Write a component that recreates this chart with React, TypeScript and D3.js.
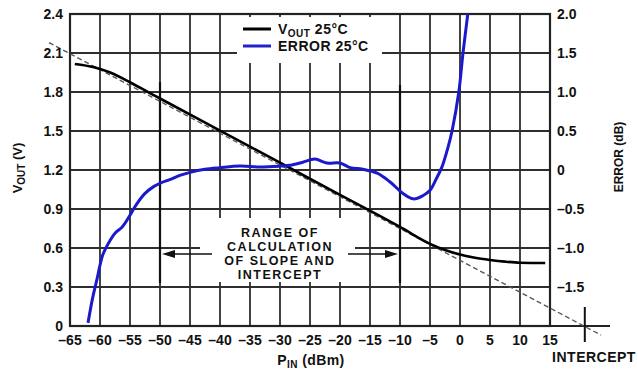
import React from "react";
import * as d3 from "d3";

const xTicks = [-65, -60, -55, -50, -45, -40, -35, -30, -25, -20, -15, -10, -5, 0, 5, 10, 15];
const vTicks = [0, 0.3, 0.6, 0.9, 1.2, 1.5, 1.8, 2.1, 2.4];
const vTickLabels = ["0", "0.3", "0.6", "0.9", "1.2", "1.5", "1.8", "2.1", "2.4"];
const errTicks = [2.0, 1.5, 1.0, 0.5, 0, -0.5, -1.0, -1.5];
const errTickLabels = ["2.0", "1.5", "1.0", "0.5", "0", "\u20130.5", "\u20131.0", "\u20131.5"];

const voutP = [-64.2, -61, -58.3, -55, -51.7, -50, -40, -30, -20, -13.3, -10, -5, -2.5, 0, 2.5, 5, 7.5, 10, 14.2];
const voutV = [2.015, 1.99, 1.95, 1.875, 1.792, 1.75, 1.503, 1.256, 1.009, 0.845, 0.762, 0.632, 0.585, 0.55, 0.525, 0.508, 0.495, 0.487, 0.485];

const errP = [-62, -61.2, -60.5, -60, -59.5, -58.3, -57.5, -56.3, -55, -54, -52.5, -51, -50, -48.3, -46.7, -45, -42.5, -40, -36.7, -33.3, -30, -28.3, -26.2, -24.2, -22.2, -20, -18.3, -16.2, -13.8, -11.7, -9.5, -7.8, -6.2, -5, -4, -3, -2, -1.3, -0.2, 0.5, 1.3];
const errDb = [-1.96, -1.63, -1.4, -1.22, -1.08, -0.9, -0.81, -0.73, -0.58, -0.45, -0.3, -0.21, -0.17, -0.12, -0.07, -0.03, 0.01, 0.03, 0.05, 0.04, 0.05, 0.06, 0.1, 0.14, 0.09, 0.09, 0.03, 0.01, -0.04, -0.15, -0.3, -0.37, -0.33, -0.26, -0.12, 0.04, 0.29, 0.51, 1.0, 1.5, 2.0];

const fitP = [-68.5, 23.5];
const fitV = [2.18, -0.07];
const interceptP = 20.8;
const rangeP = [-50, -10];
const rangeText = ["RANGE OF", "CALCULATION", "OF SLOPE AND", "INTERCEPT"];

const font = "'Liberation Sans', Arial, Helvetica, sans-serif";

export default function App() {
  const x = d3.scaleLinear().domain([-65, 15]).range([70, 550]);
  const yV = d3.scaleLinear().domain([0, 2.4]).range([326, 14]);
  const yE = d3.scaleLinear().domain([-2, 2]).range([326, 14]);

  const voutLine = d3
    .line<number>()
    .x((_, i) => x(voutP[i]))
    .y((d) => yV(d))
    .curve(d3.curveMonotoneX)(voutV) as string;

  const errLine = d3
    .line<number>()
    .x((_, i) => x(errP[i]))
    .y((d) => yE(d))
    .curve(d3.curveCatmullRom.alpha(0.5))(errDb) as string;

  const fitLine = d3
    .line<number>()
    .x((_, i) => x(fitP[i]))
    .y((d) => yV(d))(fitV) as string;

  const gridColor = "#2e2e2e";
  const xl = x(rangeP[0]);
  const xr = x(rangeP[1]);
  const arrowY = 254;
  const txt = { fontWeight: "bold" as const, fill: "#111" };

  return (
    <svg width={638} height={373} style={{ position: "absolute", left: 0, top: 0, background: "#fff" }} fontFamily={font}>
      <rect x={0} y={0} width={638} height={373} fill="#fff" />
      {/* grid */}
      {xTicks.map((t) => (
        <line key={"vx" + t} x1={x(t)} x2={x(t)} y1={14} y2={326} stroke={gridColor} strokeWidth={1.8} />
      ))}
      {vTicks.map((t) => (
        <line key={"hy" + t} x1={70} x2={550} y1={yV(t)} y2={yV(t)} stroke={gridColor} strokeWidth={1.8} />
      ))}
      {/* border */}
      <rect x={70} y={14} width={480} height={312} fill="none" stroke="#222" strokeWidth={2.2} />
      <line x1={70} x2={610} y1={326} y2={326} stroke="#222" strokeWidth={2.2} />
      {/* intercept marker */}
      <line x1={x(interceptP)} x2={x(interceptP)} y1={307} y2={342} stroke="#111" strokeWidth={2} />

      {/* legend box */}
      <rect x={237} y={17} width={145} height={46} fill="#fff" />
      <line x1={243} x2={271} y1={29} y2={29} stroke="#000" strokeWidth={3} />
      <line x1={243} x2={271} y1={46} y2={46} stroke="#2222cc" strokeWidth={3} />
      <text x={278} y={34} fontSize={14} letterSpacing={0.5} {...txt}>
        V<tspan fontSize={10} dy={3}>OUT</tspan>
        <tspan dy={-3}> 25°C</tspan>
      </text>
      <text x={278} y={51} fontSize={14} letterSpacing={0.5} {...txt}>ERROR 25°C</text>

      {/* annotation box */}
      <rect x={200} y={218} width={155} height={64} fill="#fff" />
      {rangeText.map((s, i) => (
        <text key={s} x={280} y={236.5 + i * 14} fontSize={12.5} letterSpacing={1.5} textAnchor="middle" {...txt}>
          {s}
        </text>
      ))}
      {/* range markers */}
      <line x1={xl} x2={xl} y1={82} y2={283} stroke="#111" strokeWidth={2.2} />
      <line x1={xr} x2={xr} y1={85} y2={283} stroke="#111" strokeWidth={2.2} />
      <line x1={212} x2={172} y1={arrowY} y2={arrowY} stroke="#111" strokeWidth={1.4} />
      <path d={`M${xl + 2},${arrowY} L${xl + 15},${arrowY - 4} L${xl + 15},${arrowY + 4} Z`} fill="#111" />
      <line x1={348} x2={xr - 10} y1={arrowY} y2={arrowY} stroke="#111" strokeWidth={1.4} />
      <path d={`M${xr - 2},${arrowY} L${xr - 15},${arrowY - 4} L${xr - 15},${arrowY + 4} Z`} fill="#111" />

      {/* fit line */}
      <path d={fitLine} fill="none" stroke="#555" strokeWidth={1.3} strokeDasharray="5,3" />
      {/* curves */}
      <path d={voutLine} fill="none" stroke="#000" strokeWidth={2.6} />
      <path d={errLine} fill="none" stroke="#1a1acc" strokeWidth={3} strokeLinejoin="round" />

      {/* left axis labels */}
      {vTicks.map((t, i) => (
        <text key={"vl" + t} x={63} y={yV(t) + 5} fontSize={14} textAnchor="end" {...txt}>
          {vTickLabels[i]}
        </text>
      ))}
      {/* right axis labels */}
      {errTicks.map((t, i) => (
        <text key={"el" + t} x={557} y={yE(t) + 5} fontSize={14} {...txt}>
          {errTickLabels[i]}
        </text>
      ))}
      {/* x axis labels */}
      {xTicks.map((t) => (
        <text key={"xl" + t} x={x(t)} y={345} fontSize={14} textAnchor="middle" {...txt}>
          {t < 0 ? "\u2013" + Math.abs(t) : String(t)}
        </text>
      ))}
      <text x={311} y={365} fontSize={14} letterSpacing={0.4} textAnchor="middle" {...txt}>
        P<tspan fontSize={10} dy={3}>IN</tspan>
        <tspan dy={-3}> (dBm)</tspan>
      </text>
      <text x={594} y={362} fontSize={14} letterSpacing={0.5} textAnchor="middle" {...txt}>INTERCEPT</text>
      {/* axis titles */}
      <text transform="translate(22,168) rotate(-90)" fontSize={13} textAnchor="middle" {...txt}>
        V<tspan fontSize={10} dy={3}>OUT</tspan>
        <tspan dy={-3}> (V)</tspan>
      </text>
      <text transform="translate(623,157) rotate(-90)" fontSize={12} textAnchor="middle" {...txt}>
        ERROR (dB)
      </text>
    </svg>
  );
}
